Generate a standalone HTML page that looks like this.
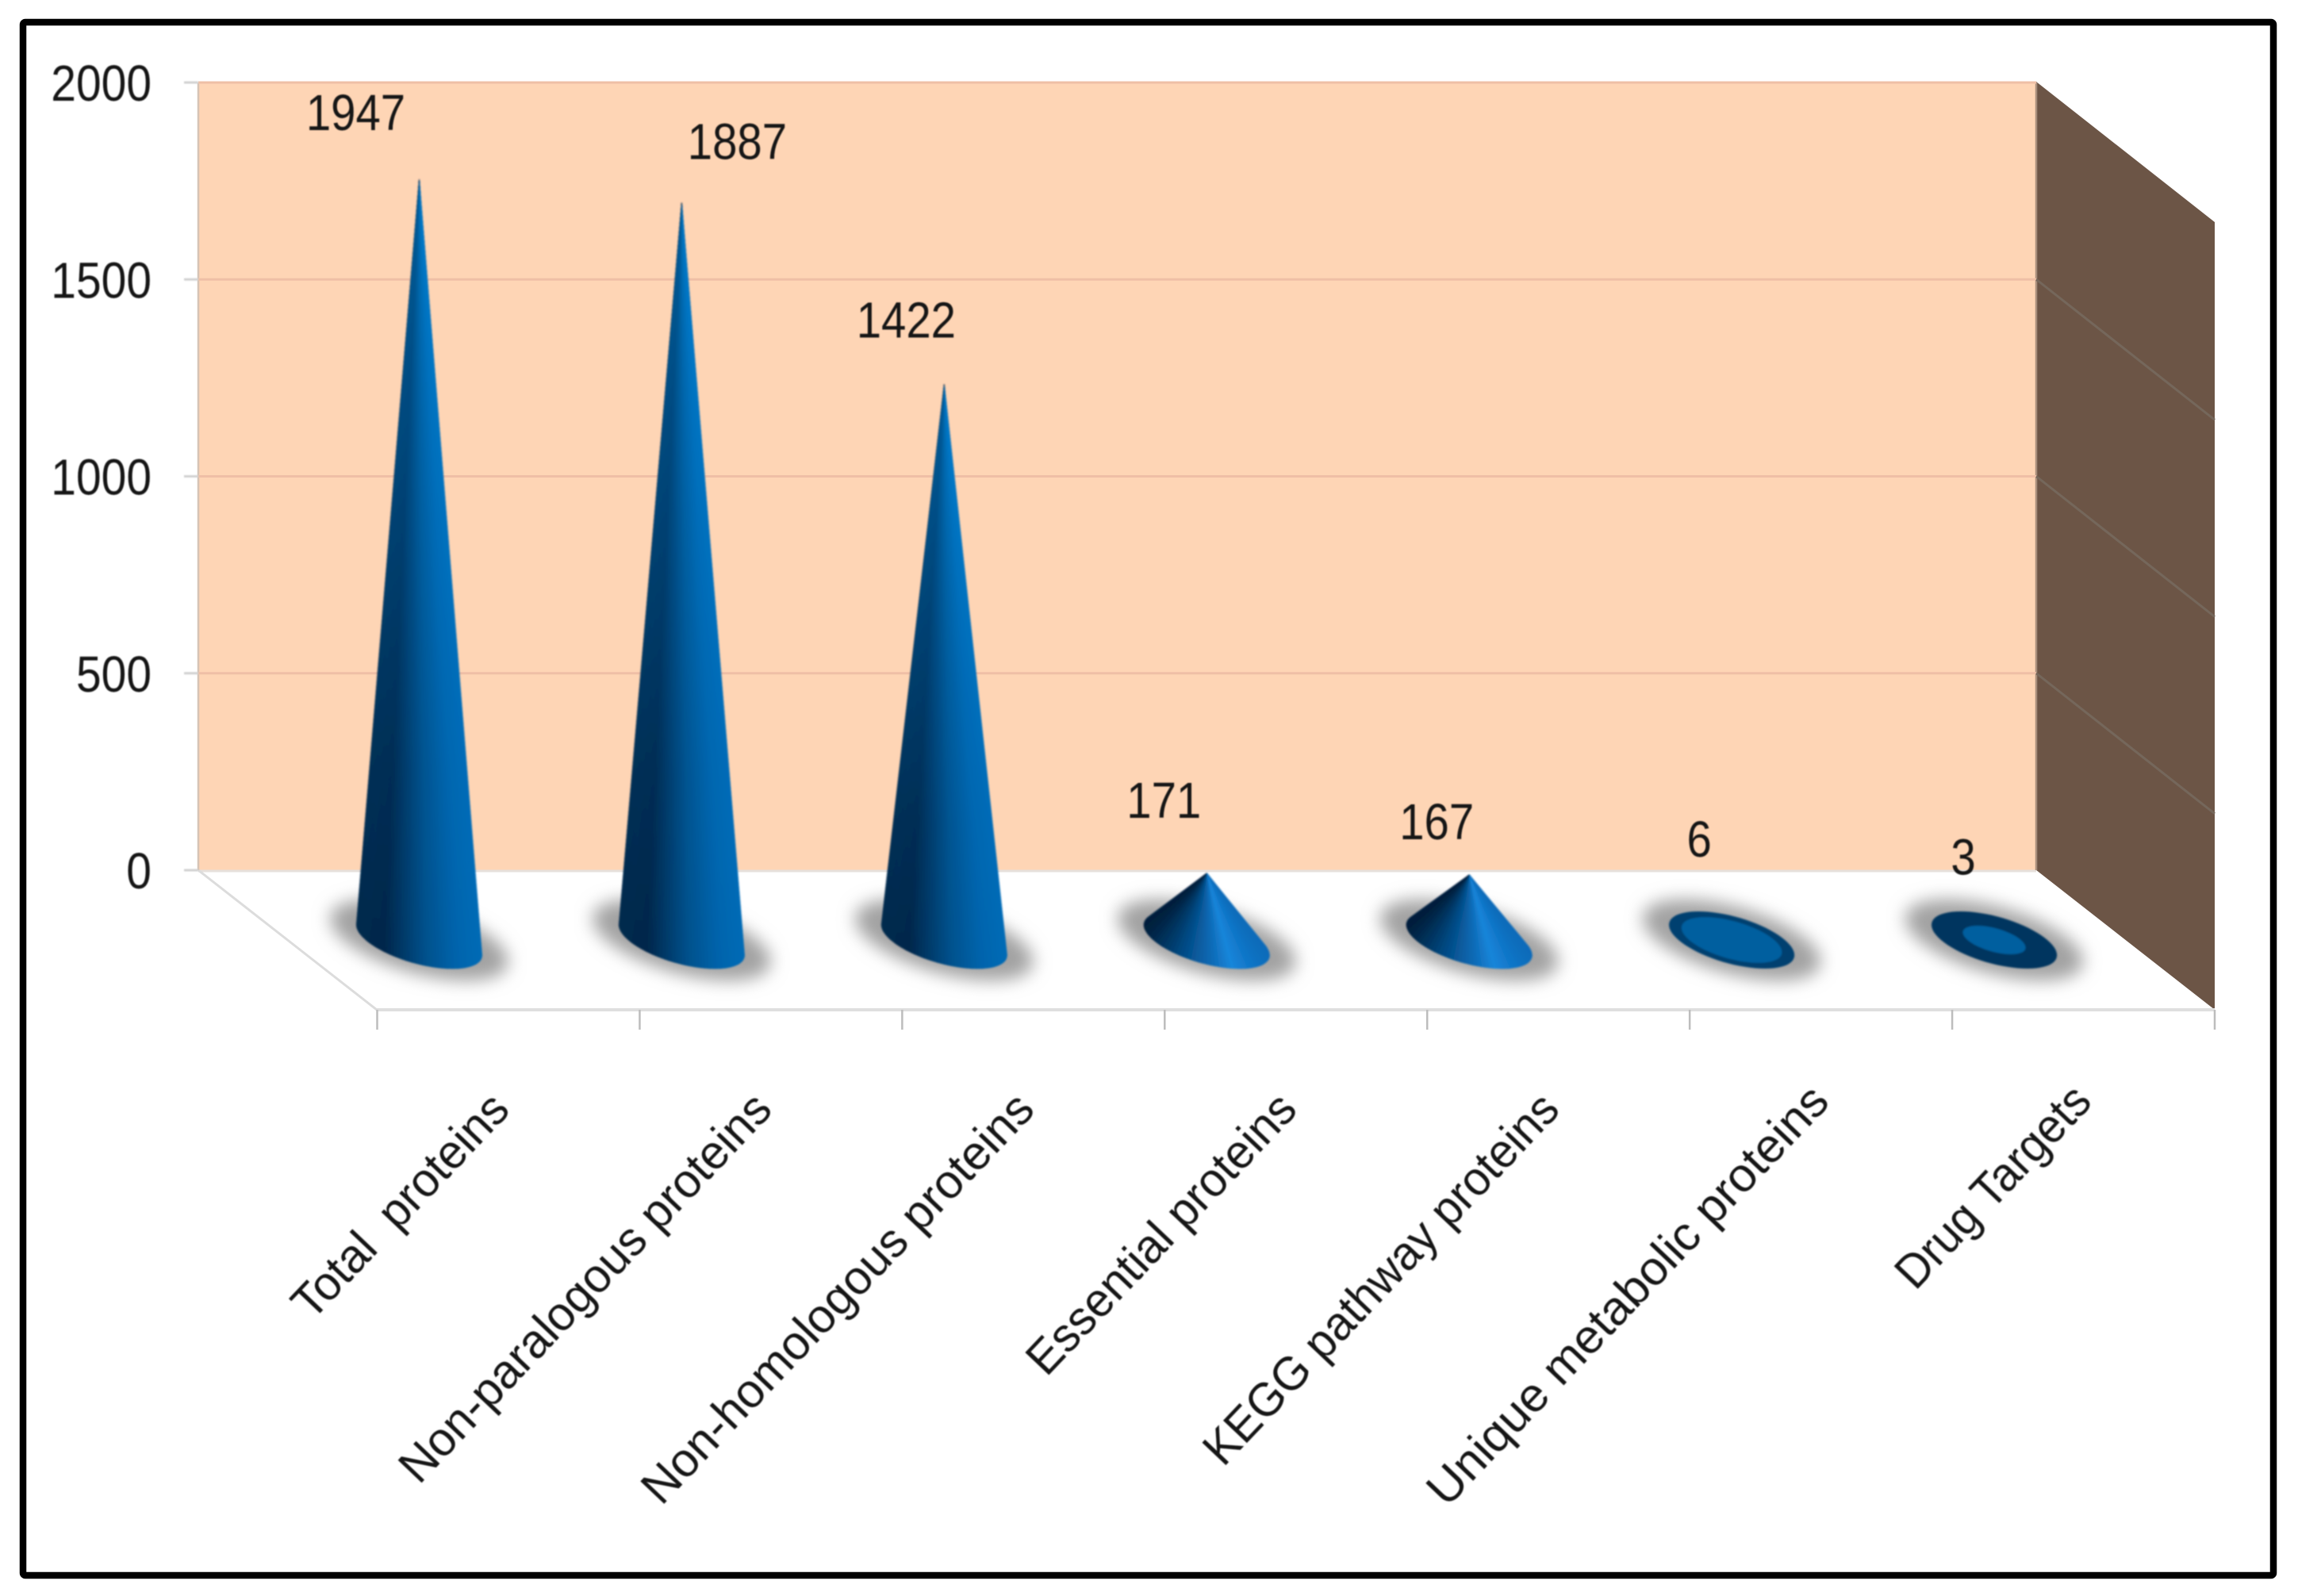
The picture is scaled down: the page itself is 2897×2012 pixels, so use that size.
<!DOCTYPE html>
<html lang="en">
<head>
<meta charset="utf-8">
<title>Protein subtraction cone chart</title>
<style>
html,body{margin:0;padding:0;background:#fff;width:2897px;height:2012px;overflow:hidden}
svg{display:block}
text{font-family:"Liberation Sans",sans-serif;fill:#161616}
</style>
</head>
<body>
<svg id="chart" xmlns="http://www.w3.org/2000/svg" width="2897" height="2012" viewBox="0 0 2897 2012">
  <defs>
    <filter id="soft" x="-5%" y="-5%" width="110%" height="110%"><feGaussianBlur stdDeviation="1.1"/></filter>
    <filter id="softText" x="-10%" y="-10%" width="120%" height="120%"><feGaussianBlur stdDeviation="0.8"/></filter>
    <filter id="shadowBlur" x="-40%" y="-60%" width="180%" height="220%"><feGaussianBlur stdDeviation="11"/></filter>
    <linearGradient id="tipGlow" x1="0" y1="0" x2="0" y2="1">
      <stop offset="0" stop-color="#0a8ae0" stop-opacity="0.55"/>
      <stop offset="0.75" stop-color="#0a7ed0" stop-opacity="0.08"/>
      <stop offset="1" stop-color="#0a7ed0" stop-opacity="0"/>
    </linearGradient>
  </defs>
  <rect x="29" y="28" width="2837" height="1958" rx="3" fill="#fff" stroke="#000" stroke-width="8.5"/>
  <polygon points="250,104 2567,104 2567,1097 250,1097" fill="#fed5b5"/>
  <polygon points="2567,103 2792,280 2792,1273 2567,1097" fill="#6c5546"/>
  <polygon points="250,1097 2567,1097 2792,1273 475,1273" fill="#ffffff"/>
  <line x1="250" y1="1098" x2="2567" y2="1098" stroke="#e6e0dc" stroke-width="3"/>
  <line x1="250" y1="1097" x2="475" y2="1273" stroke="#dcdcdc" stroke-width="3"/>
  <line x1="475" y1="1273" x2="2792" y2="1273" stroke="#dfdfdf" stroke-width="4"/>
  <line x1="250" y1="104" x2="250" y2="1097" stroke="#d6c4b6" stroke-width="2.5"/>
  <line x1="2567" y1="104" x2="2567" y2="1097" stroke="#a98f7d" stroke-width="2.5"/>
  <g id="grid"></g>
  <g id="yaxis" filter="url(#softText)"></g>
  <g id="xaxis"></g>
  <g id="shadows" filter="url(#shadowBlur)"></g>
  <g id="cones" filter="url(#soft)"></g>
  <g id="values" filter="url(#softText)"></g>
  <g id="cats" filter="url(#softText)"></g>
</svg>
<script>
const categories = ["Total  proteins","Non-paralogous proteins","Non-homologous proteins","Essential proteins","KEGG pathway proteins","Unique metabolic proteins","Drug Targets"];
const values = [1947,1887,1422,171,167,6,3];
const yTicks = [0,500,1000,1500,2000];
const yTickLabels = ["0","500","1000","1500","2000"];

// Hand-placed label nudges (layout only, separate from the data)
const labelNudgeX = [-80,70,-48,-54,-41,-41,-39];
const labelNudgeY = [-85,-78,-82,-93,-68,-125,-104];
const catNudgeX = [-2,-2,-2,-2,-2,7,7];
const catNudgeY = [-7,-7,-7,-7,-7,-17,-17];
const catStretch = [0.98,0.99,1.0,0.978,0.963,1.015,0.955];

const NS = "http://www.w3.org/2000/svg";
const WALL_LEFT = 250, WALL_RIGHT = 2567, FRONT_LEFT = 475.5, FRONT_RIGHT = 2792;
const WALL_BASE = 1097, FLOOR_FRONT = 1273, DEPTH_X = 225, DEPTH_Y = 177;
const PER_UNIT = 993 / 2000;
const CONE_PER_UNIT = 0.4925;
const CONE_Y = 1185;
const A = 67, B = 42, C = 36;

function yScale(v){ return WALL_BASE - v * PER_UNIT; }
function heightOf(v){ return v * CONE_PER_UNIT; }
function tickX(i){ return FRONT_LEFT + i * (FRONT_RIGHT - FRONT_LEFT) / categories.length; }
function catCenter(i){ return tickX(i + 0.5); }
function coneX(i){ return catCenter(i) - DEPTH_X / 2; }

function mk(tag, parent, attrs){
  const e = document.createElementNS(NS, tag);
  for (const k in attrs) e.setAttribute(k, attrs[k]);
  parent.appendChild(e);
  return e;
}
function ellipseAt(cx, cy, t, s){
  return [cx + s * (A * Math.cos(t) + B * Math.sin(t)), cy + s * C * Math.sin(t)];
}
function ellipsePath(cx, cy, s){
  const p = [];
  for (let k = 0; k < 72; k++){
    const q = ellipseAt(cx, cy, k / 72 * Math.PI * 2, s);
    p.push(q[0].toFixed(1) + "," + q[1].toFixed(1));
  }
  return p.join(" ");
}
function hex(c){ return [1,3,5].map(i => parseInt(c.substr(i,2),16)); }
function ramp(stops, u){
  for (let i = 1; i < stops.length; i++){
    if (u <= stops[i][0]){
      const a = stops[i-1], b = stops[i], f = (u - a[0]) / (b[0] - a[0] || 1);
      const ca = hex(a[1]), cb = hex(b[1]);
      return "rgb(" + ca.map((x,j) => Math.round(x + (cb[j]-x)*f)).join(",") + ")";
    }
  }
  return stops[stops.length-1][1];
}
const tallRamp = [[0,"#06294b"],[0.22,"#00264a"],[0.55,"#00518c"],[0.8,"#0064ac"],[1,"#006bb6"]];
const shortRamp = [[0,"#001f3c"],[0.3,"#044b85"],[0.55,"#0d6cb8"],[0.7,"#1886da"],[0.85,"#1076c8"],[1,"#0d6cba"]];

// Gridlines on back and side walls
const grid = document.getElementById("grid");
yTicks.forEach(function(v){
  const y = yScale(v);
  if (v > 0){
    const g = mk("line", grid, {x1:WALL_LEFT, y1:y, x2:WALL_RIGHT, y2:y, stroke:"#efbfa6", "stroke-width":3});
    
    
  }
  if (v > 0 && v < 2000){
    const s = mk("line", grid, {x1:WALL_RIGHT, y1:y, x2:WALL_RIGHT+DEPTH_X, y2:y+DEPTH_Y, stroke:"#75675b", "stroke-width":3});
    
    
  }
});

// Y axis
const yaxis = document.getElementById("yaxis");
yTicks.forEach(function(v, i){
  const y = yScale(v);
  const t = mk("line", yaxis, {x1:232, y1:y, x2:WALL_LEFT, y2:y, stroke:"#d2d2d2", "stroke-width":3});
  
  
  const l = mk("text", yaxis, {transform:"translate(191," + (y + 23) + ") scale(0.89,1)", "text-anchor":"end", "font-size":64});
  
  
  l.textContent = yTickLabels[i];
});

// X ticks and category labels
const xaxis = document.getElementById("xaxis");
for (let i = 0; i <= categories.length; i++){
  const x = tickX(i);
  const t = mk("line", xaxis, {x1:x, y1:FLOOR_FRONT, x2:x, y2:1298, stroke:"#bdbdbd", "stroke-width":2.5});
  
  
}
const cats = document.getElementById("cats");
categories.forEach(function(c, i){
  const l = mk("text", cats, {transform:"translate(" + (catCenter(i) + 6 + catNudgeX[i]) + "," + (1408 + catNudgeY[i]) + ") rotate(-46.5) scale(" + catStretch[i] + ",1)", "text-anchor":"end", "font-size":60, style:"white-space:pre"});
  
  
  l.textContent = c;
});

// Shadows and cones
const shadows = document.getElementById("shadows");
const conesG = document.getElementById("cones");
const valuesG = document.getElementById("values");
values.forEach(function(v, i){
  const cx = coneX(i), cy = CONE_Y, h = heightOf(v);
  const sh = mk("polygon", shadows, {points:ellipsePath(cx, cy, 1.42), fill:"#a2a2a2"});
  
  

  const g = mk("g", conesG, {});
  
  

  const R = Math.hypot(A, B), ratio = A * C / (h * R);
  if (ratio >= 1){
    // apex falls inside the base ellipse: seen as a disc from above
    mk("polygon", g, {points:ellipsePath(cx, cy, 1), fill: v > 4 ? "#013f70" : "#00365f"});
    const inner = Math.min(0.8, 0.2 + 0.1 * v);
    mk("polygon", g, {points:ellipsePath(cx, cy, inner), fill:"#005f9f"});
  } else {
    const phi = Math.atan2(A, B), a = Math.acos(ratio);
    const t1 = -phi + a, t2 = -phi - a + Math.PI * 2;
    const ax = cx, ay = cy - h;
    const N = 60, rampUse = v < 500 ? shortRamp : tallRamp;
    const outline = [ax.toFixed(1) + "," + ay.toFixed(1)];
    for (let k = 0; k < N; k++){
      const p = ellipseAt(cx, cy, t1 + (t2 - t1) * k / N, 1);
      const q = ellipseAt(cx, cy, t1 + (t2 - t1) * (k + 1) / N, 1);
      const u = ((p[0] + q[0]) / 2 - (cx - R)) / (2 * R);
      const col = ramp(rampUse, Math.max(0, Math.min(1, u)));
      mk("polygon", g, {points:[ax,ay,p[0],p[1],q[0],q[1]].map(n => n.toFixed(1)).join(" "), fill:col, stroke:col, "stroke-width":0.8});
      outline.push(p[0].toFixed(1) + "," + p[1].toFixed(1));
    }
    if (v >= 500){
      mk("polygon", g, {points:outline.join(" "), fill:"url(#tipGlow)"});
    }
  }

  const t = mk("text", valuesG, {transform:"translate(" + (cx + labelNudgeX[i]) + "," + (cy - h + labelNudgeY[i] + 23) + ") scale(0.88,1)", "text-anchor":"middle", "font-size":64});
  
  
  t.textContent = String(v);
});
</script>
</body>
</html>
